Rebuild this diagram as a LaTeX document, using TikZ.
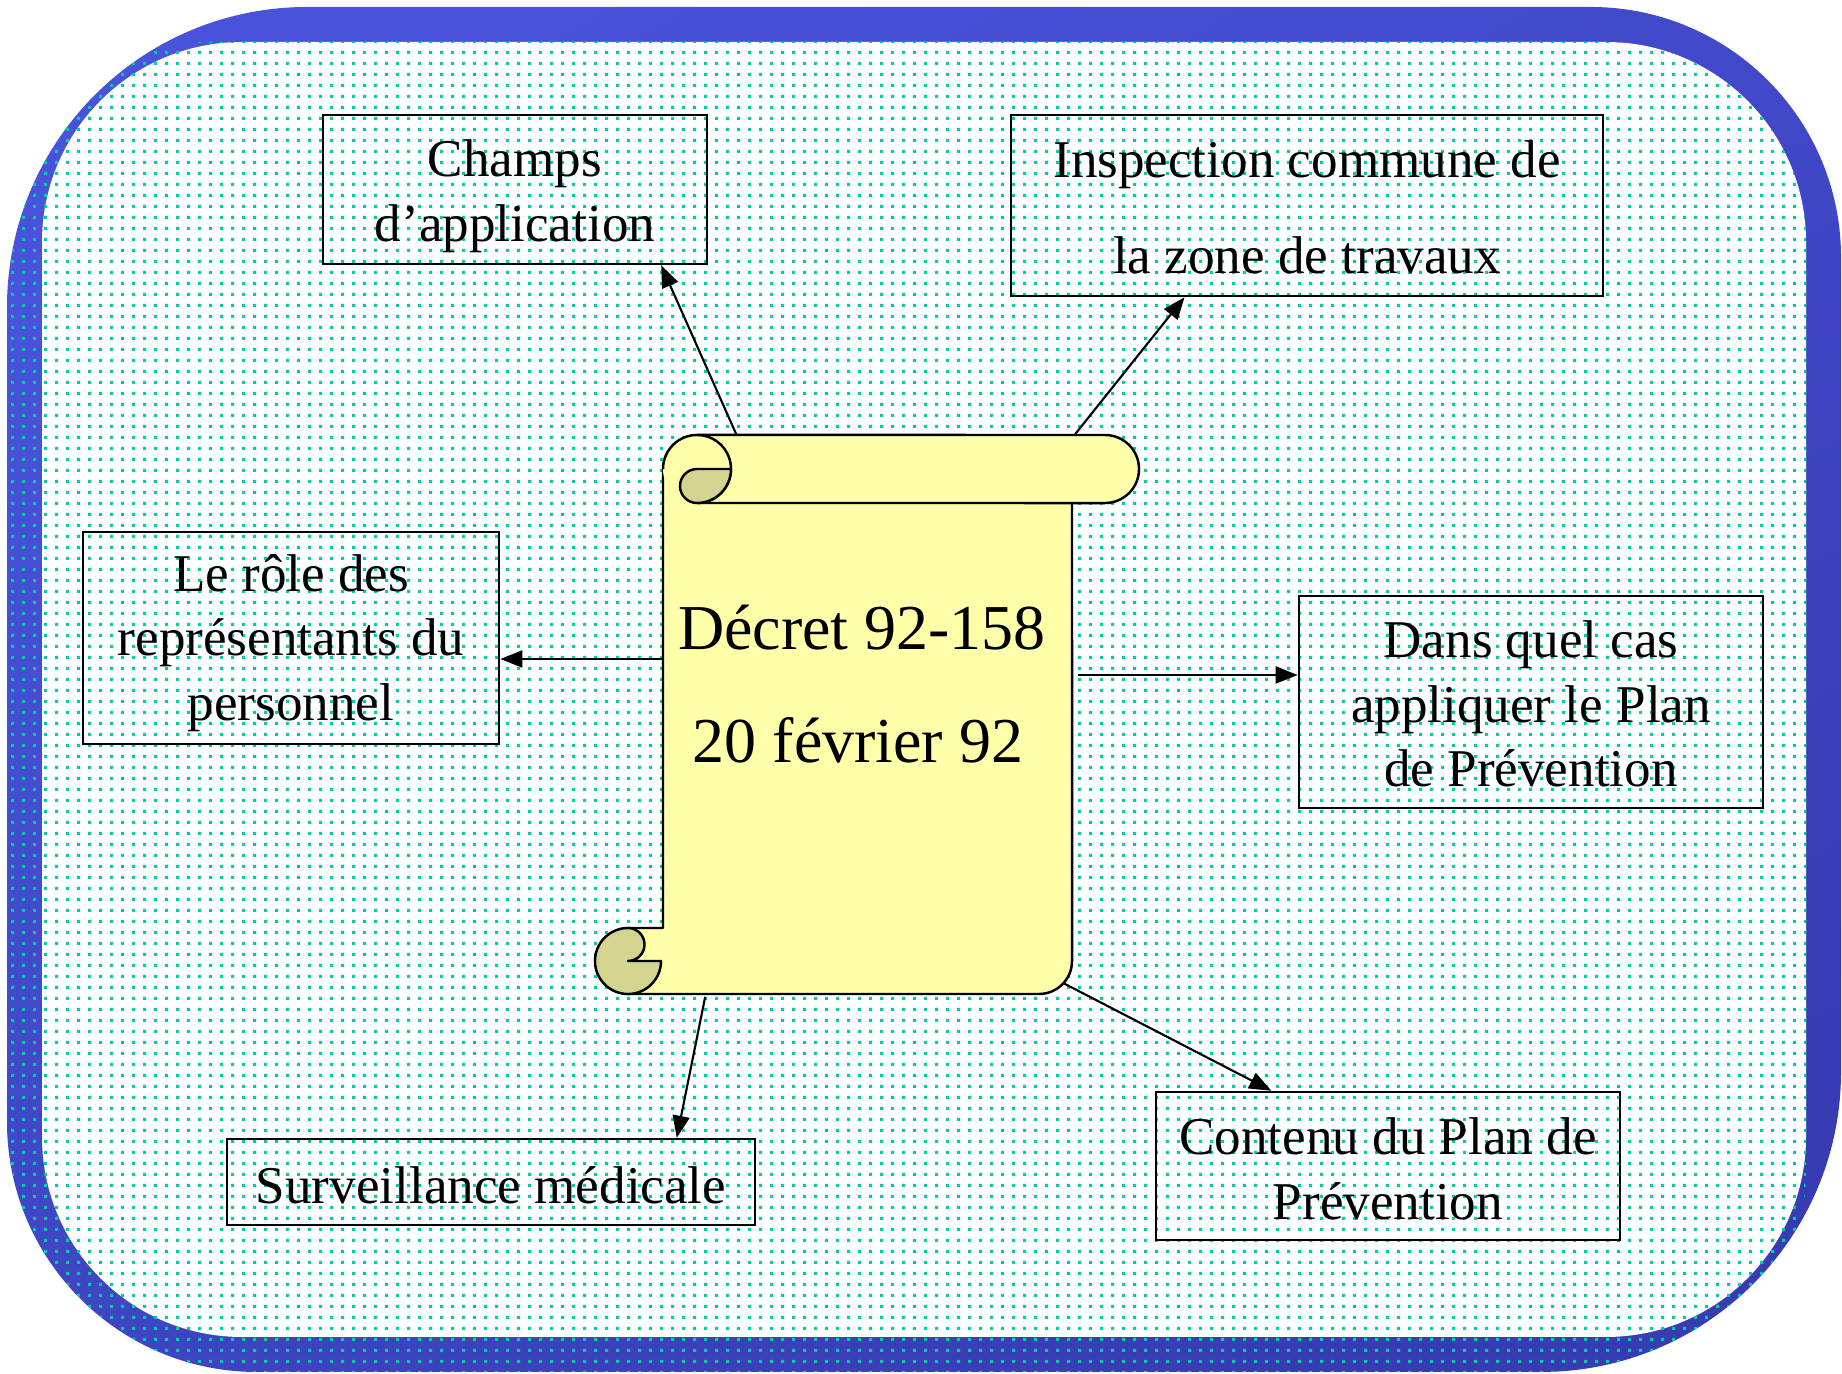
\documentclass[tikz,border=0pt]{standalone}
\usepackage{fontspec}
\setmainfont{Liberation Serif}
\usetikzlibrary{arrows.meta,patterns,calc}
\definecolor{frameA}{RGB}{72,82,218}
\definecolor{frameB}{RGB}{56,60,178}
\definecolor{dotc}{RGB}{0,204,165}
\definecolor{paper}{RGB}{255,255,170}
\definecolor{curl}{RGB}{212,212,145}
\pgfdeclarepatternformonly{ptdots}{\pgfqpoint{0pt}{0pt}}{\pgfqpoint{3.13pt}{3.13pt}}{\pgfqpoint{3.13pt}{3.13pt}}{%
  \pgfpathrectangle{\pgfqpoint{0pt}{0pt}}{\pgfqpoint{1.0pt}{1.0pt}}\pgfusepath{fill}}
\tikzset{
  boxnode/.style={draw=black, line width=0.7pt, inner sep=0pt},
  boxtext/.style={align=center, inner sep=0pt, yshift=-0.05cm,
    font=\fontsize{15.1}{18.3}\selectfont},
  arr/.style={line width=0.6pt, -{Triangle[length=0.22cm,width=0.17cm]}},
  scrollline/.style={draw=black, line width=0.7pt, line join=round},
  bigtxt/.style={font=\fontsize{18.2}{18.2}\selectfont, anchor=base, inner sep=0pt}
}
\begin{document}
\begin{tikzpicture}[x=0.01cm,y=0.01cm]
\useasboundingbox (0,0) rectangle (1842,-1374);
% frame
\def\framepath{(7,-690) [rounded corners=3cm] |- (924,-7) [rounded corners=2.5cm] -| (1841,-690)
  [rounded corners=3cm] |- (924,-1372) [rounded corners=2.5cm] -| (7,-690) -- cycle}
\shade[top color=frameA, bottom color=frameB, shading angle=30] \framepath;
\fill[white, rounded corners=2.0cm] (42,-42) rectangle (1806,-1337);
\begin{scope}
  \clip \framepath;
  \fill[pattern=ptdots, pattern color=dotc, rounded corners=2.0cm] (7,-42) rectangle (1806,-1372);
\end{scope}

% boxes
\node[boxnode, minimum width=3.84cm, minimum height=1.49cm] (champs) at (515,-189.5) {};
\node[boxtext, font=\fontsize{15.1}{18.5}\selectfont, yshift=-0.02cm] (champsT) at (champs.center) {Champs\\d’application};
\node[boxnode, minimum width=5.92cm, minimum height=1.81cm] (insp) at (1307,-205.5) {};
\node[boxtext, font=\fontsize{15.1}{27.3}\selectfont, yshift=0.03cm] (inspT) at (insp.center) {Inspection commune de\\la zone de travaux};
\node[boxnode, minimum width=4.16cm, minimum height=2.12cm] (role) at (291,-638) {};
\node[boxtext] (roleT) at (role.center) {Le rôle des\\représentants du\\personnel};
\node[boxnode, minimum width=4.64cm, minimum height=2.12cm] (dans) at (1531,-702) {};
\node[boxtext, yshift=0.03cm] (dansT) at (dans.center) {Dans quel cas\\appliquer le Plan\\de Prévention};
\node[boxnode, minimum width=5.28cm, minimum height=0.86cm] (surv) at (491,-1182) {};
\node[boxtext, yshift=0.02cm] (survT) at (surv.center) {Surveillance médicale};
\node[boxnode, minimum width=4.64cm, minimum height=1.48cm] (cont) at (1388,-1166) {};
\node[boxtext, yshift=0.02cm] (contT) at (cont.center) {Contenu du Plan de\\Prévention};

% scroll
\node[minimum width=4.09cm, minimum height=5.59cm, inner sep=0pt] (scroll) at (867.5,-714.5) {};
\filldraw[scrollline, fill=paper] (663,-469) -- (663,-928) -- (628,-928) -- (628,-994) -- (1039,-994)
  arc[start angle=270,end angle=360,radius=0.33cm] -- (1072,-469) -- cycle;
% bottom curl
\filldraw[scrollline, fill=curl] (628,-928) arc[start angle=90,end angle=360,radius=0.33cm]
  -- (628,-961) arc[start angle=-90,end angle=90,radius=0.165cm] -- cycle;
% top roll
\fill[paper] (697,-435) -- (1105,-435) arc[start angle=90,end angle=-90,radius=0.34cm]
  -- (697,-503) arc[start angle=270,end angle=90,radius=0.34cm] -- cycle;
\draw[scrollline] (663,-469) arc[start angle=180,end angle=90,radius=0.34cm] -- (1105,-435)
  arc[start angle=90,end angle=-90,radius=0.34cm] -- (697,-503);
\draw[scrollline] (697,-435) arc[start angle=90,end angle=-90,radius=0.34cm];
\filldraw[scrollline, fill=curl] (697,-469) -- (731,-469) arc[start angle=0,end angle=-90,radius=0.34cm]
  arc[start angle=270,end angle=90,radius=0.17cm] -- cycle;

\node[bigtxt] (decA) at (862,-650) {Décret 92-158};
\node[bigtxt] (decB) at (858,-763) {20 février 92};

% connectors
\coordinate (s1) at ($(scroll.north west)+(74,0)$);
\coordinate (s2) at ($(scroll.north west)+(413,0)$);
\coordinate (s3) at ($(scroll.west)+(1,55.5)$);
\coordinate (s4) at ($(scroll.east)+(5,39.5)$);
\coordinate (s5) at ($(scroll.south west)+(43,-2)$);
\coordinate (s6) at ($(scroll.south east)+(-10,12)$);
\draw[arr] (s1) -- ($(champs.south west)!0.878!(champs.south east)$);
\draw[arr] (s2) -- ($(insp.south west)!0.294!(insp.south east)$);
\draw[arr] (s3) -- (s3 -| role.east);
\draw[arr] (s4) -- (s4 -| dans.west);
\draw[arr] (s5) -- ($(surv.north west)!0.85!(surv.north east)$);
\draw[arr] (s6) -- ($(cont.north west)!0.25!(cont.north east)$);
\end{tikzpicture}
\end{document}
